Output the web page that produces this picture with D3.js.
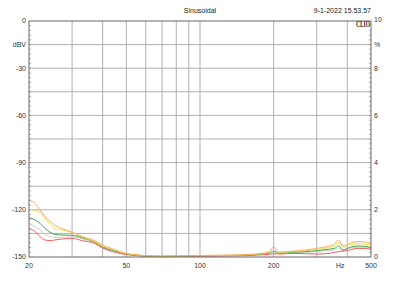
<!DOCTYPE html>
<html>
<head>
<meta charset="utf-8">
<script src="https://cdnjs.cloudflare.com/ajax/libs/d3/7.8.5/d3.min.js"></script>
<style>
  body { margin: 0; background: #fff; }
  svg { display: block; font-family: "Liberation Sans", Arial, sans-serif; }
</style>
</head>
<body>
<div id="container"><svg></svg></div>
<script>
let width = 400;
let height = 300;

// frequencies (Hz) shared by all traces
let freqs = [20, 21.2, 22.2, 23.25, 24.4, 25.5, 27.2, 30, 33, 37, 40, 44, 49, 55, 60, 70, 80, 100, 130, 160,
    180, 192, 200, 206, 212, 240, 270, 300, 338, 355, 369, 384, 409, 443, 470, 500];

// levels in dBV, one array per trace
let orangeVals = [-113.8, -116, -120, -124.4, -127.5, -129.7, -131.8, -134.3, -137, -139.5, -142.4, -144.8, -147.4, -148.6, -149.1, -149.4, -149.3, -149, -148.8, -148.4,
    -147.6, -146.5, -143.5, -145.5, -146.8, -146.2, -145.6, -144.5, -143, -141.8, -139.2, -143, -141.3, -140.2, -140.4, -141.3];
let yellowVals = [-119.5, -120.5, -121.5, -125.4, -129.2, -131.8, -132.8, -134.3, -137.2, -140, -143, -145.3, -147.6, -148.7, -149.2, -149.5, -149.4, -149.1, -148.9, -148.5,
    -147.8, -147, -145, -146.5, -147.2, -146.6, -146, -145.2, -144, -143, -140.9, -143.8, -142.3, -141.6, -141.8, -142.3];
let greenVals = [-125, -126.5, -128.6, -131.8, -134.3, -135.6, -136, -136.2, -137.8, -140.4, -143.5, -145.8, -147.8, -148.8, -149.3, -149.6, -149.5, -149.2, -149, -148.7,
    -148, -147.5, -146.5, -147, -147.5, -147, -146.6, -146, -145, -144.5, -143, -145.5, -143.9, -143, -143.2, -143.9];
let grayVals = [-128.6, -130.7, -132.8, -135.6, -137.1, -137.5, -137.5, -137.1, -138.5, -141, -144, -146.2, -148, -149, -149.4, -149.7, -149.6, -149.3, -149.1, -148.8,
    -148.2, -147.8, -147.2, -147.5, -147.8, -147.4, -147, -146.6, -145.8, -145.5, -144.5, -145.8, -144.5, -143.8, -143.9, -144.5];
let redVals = [-131.8, -133.9, -137.1, -139.2, -139.6, -139.2, -138.6, -138.1, -139.6, -141.3, -144.3, -146.6, -148.3, -149.1, -149.5, -149.8, -149.7, -149.5, -149.3, -149,
    -148.6, -148.3, -148, -148, -148.1, -147.7, -147.9, -148.1, -147.7, -147, -146.6, -146.3, -145.5, -144.5, -144.6, -145];

// axis labels
let xGrid = [30, 40, 50, 60, 70, 80, 90, 100, 200, 300, 400];
let xLabels = [[20, '20'], [50, '50'], [100, '100'], [200, '200'], [400, 'Hz'], [500, '500']];
let yLabels = [[0, '0'], [-15, 'dBV'], [-30, '-30'], [-60, '-60'], [-90, '-90'], [-120, '-120'], [-150, '-150']];
let rLabels = [[10, '10'], [9, '%'], [8, '8'], [6, '6'], [4, '4'], [2, '2'], [0, '0']];

let traces = [
    {vals: grayVals, color: '#cfcfcf'},
    {vals: redVals, color: '#ff5a5a'},
    {vals: greenVals, color: '#3fa84a'},
    {vals: yellowVals, color: '#e2e25a'},
    {vals: orangeVals, color: '#ffab5a'}
];

function draw_main() {
    let padding = {left: 29, right: 29, top: 21, bottom: 43};
    let svg = d3.select('#container').select('svg')
        .attr('width', width)
        .attr('height', height);

    let x = d3.scaleLog().domain([20, 500]).range([padding.left, width - padding.right]);
    let y = d3.scaleLinear().domain([-150, 0]).range([height - padding.bottom, padding.top]);
    let yr = d3.scaleLinear().domain([0, 10]).range([height - padding.bottom, padding.top]);

    // grid
    svg.append('g').selectAll('line')
        .data(xGrid).enter().append('line')
        .attr('x1', d => x(d)).attr('x2', d => x(d))
        .attr('y1', y(0)).attr('y2', y(-150))
        .attr('stroke', '#a8a8a8').attr('stroke-width', 0.9);
    svg.append('g').selectAll('line')
        .data(d3.range(-135, 0, 15)).enter().append('line')
        .attr('x1', x(20)).attr('x2', x(500))
        .attr('y1', d => y(d)).attr('y2', d => y(d))
        .attr('stroke', '#a8a8a8').attr('stroke-width', 0.9);

    // minor ticks
    svg.append('g').selectAll('line')
        .data(d3.range(-147, 0, 3)).enter().append('line')
        .attr('x1', x(20)).attr('x2', x(20) + 2)
        .attr('y1', d => y(d)).attr('y2', d => y(d))
        .attr('stroke', '#888').attr('stroke-width', 0.7);
    svg.append('g').selectAll('line')
        .data(d3.range(0.2, 10, 0.2)).enter().append('line')
        .attr('x1', x(500) - 2).attr('x2', x(500))
        .attr('y1', d => yr(d)).attr('y2', d => yr(d))
        .attr('stroke', '#888').attr('stroke-width', 0.7);

    // curves
    let line = d3.line()
        .x((d, i) => x(freqs[i]))
        .y(d => y(d))
        .curve(d3.curveMonotoneX);
    svg.append('g').selectAll('path')
        .data(traces).enter().append('path')
        .attr('d', d => line(d.vals))
        .attr('fill', 'none')
        .attr('stroke', d => d.color)
        .attr('stroke-width', 1);

    // frame
    svg.append('rect')
        .attr('x', x(20)).attr('y', y(0))
        .attr('width', x(500) - x(20)).attr('height', y(-150) - y(0))
        .attr('fill', 'none').attr('stroke', '#666').attr('stroke-width', 1);

    // labels
    svg.append('g').selectAll('text')
        .data(yLabels).enter().append('text')
        .attr('x', x(20) - 3).attr('y', d => y(d[0]))
        .attr('dy', '0.35em')
        .attr('text-anchor', 'end')
        .attr('font-size', 7).attr('fill', '#333')
        .text(d => d[1]);
    svg.append('g').selectAll('text')
        .data(rLabels).enter().append('text')
        .attr('x', x(500) + 3).attr('y', d => yr(d[0]))
        .attr('dy', d => d[0] == 10 ? '0.1em' : '0.35em')
        .attr('font-size', 7).attr('fill', '#333')
        .text(d => d[1]);
    svg.append('g').selectAll('text')
        .data(xLabels).enter().append('text')
        .attr('x', d => d[1] == 'Hz' ? x(d[0]) - 7 : x(d[0]))
        .attr('y', y(-150) + 11)
        .attr('text-anchor', 'middle')
        .attr('font-size', 7).attr('fill', '#333')
        .text(d => d[1]);

    // titles
    svg.append('text')
        .attr('x', 200).attr('y', 12.5)
        .attr('text-anchor', 'middle')
        .attr('font-size', 7).attr('fill', '#222')
        .text('Sinusoidal');
    svg.append('text')
        .attr('x', x(500)).attr('y', 12.5)
        .attr('text-anchor', 'end')
        .attr('font-size', 7).attr('fill', '#222')
        .text('9-1-2022 15.53.57');
    svg.append('text')
        .attr('x', x(500) - 1).attr('y', 27)
        .attr('text-anchor', 'end')
        .attr('font-family', '"Liberation Serif", serif')
        .attr('font-weight', 'bold')
        .attr('font-size', 7.5).attr('fill', '#222')
        .attr('textLength', 14).attr('lengthAdjust', 'spacingAndGlyphs')
        .text('CLIO');
}

draw_main();
</script>
</body>
</html>
